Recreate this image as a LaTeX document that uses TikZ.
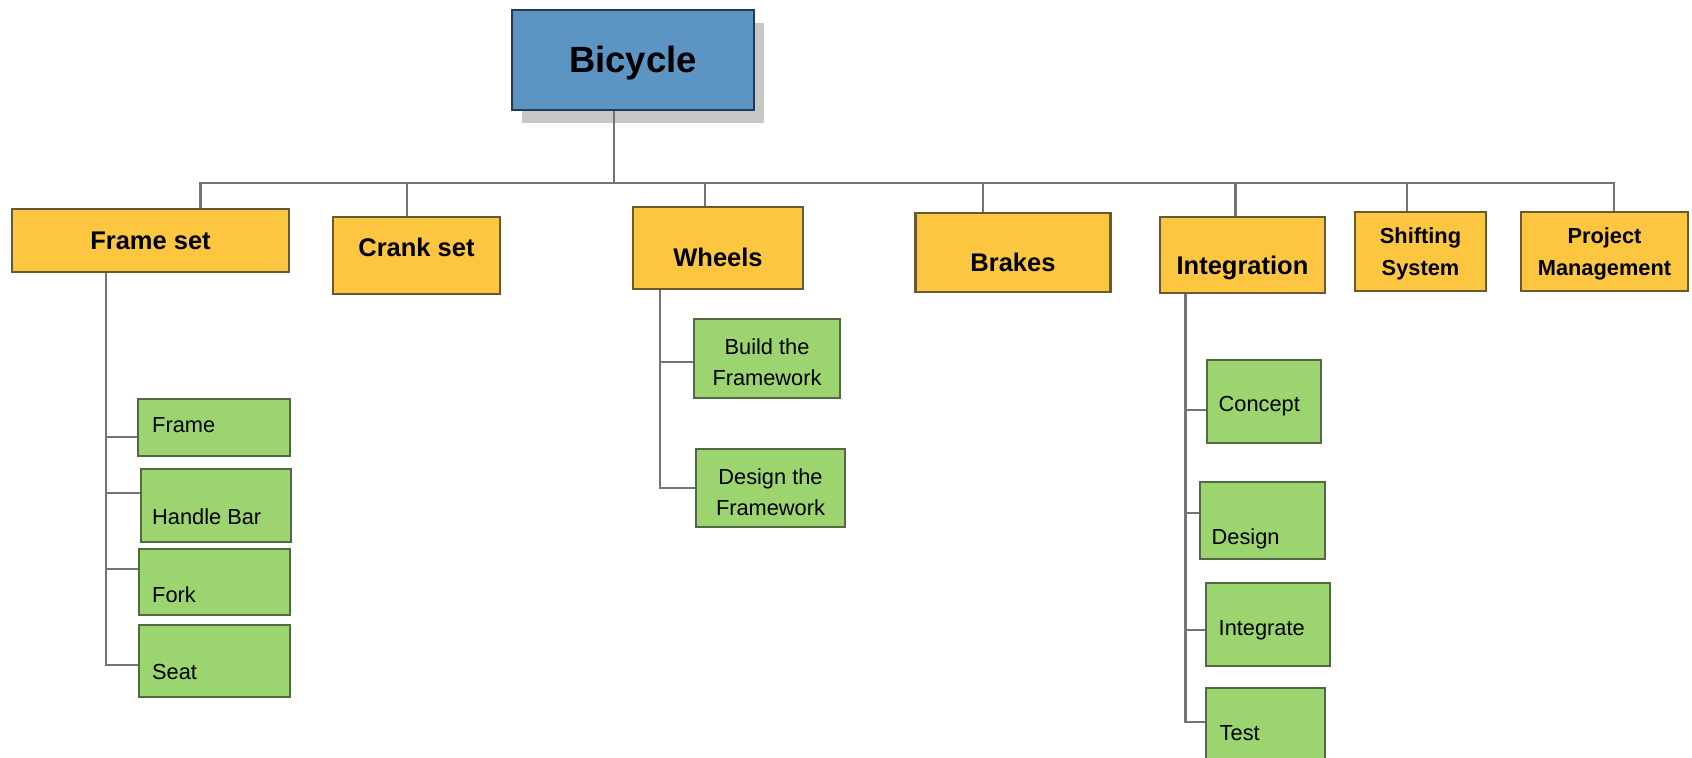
\documentclass[tikz,border=0pt]{standalone}
\usepackage{fontspec}
\setmainfont{Liberation Sans}
\usetikzlibrary{positioning,shadows}
\definecolor{rootblue}{RGB}{92,148,196}
\definecolor{rootline}{RGB}{38,56,84}
\definecolor{phaseyel}{RGB}{252,198,64}
\definecolor{phaseline}{RGB}{104,90,48}
\definecolor{taskgreen}{RGB}{156,212,111}
\definecolor{taskline}{RGB}{82,106,66}
\definecolor{wire}{RGB}{116,116,116}
\tikzstyle{conn} = [draw=wire, line width=1.2pt]
\tikzstyle{rootbox} = [rectangle, draw=rootline, fill=rootblue, line width=1.3pt, inner sep=0pt, drop shadow={shadow xshift=5pt, shadow yshift=-6.5pt, fill=black!22, opacity=1}]
\tikzstyle{phase} = [rectangle, draw=phaseline, fill=phaseyel, line width=1.2pt, inner sep=0pt]
\tikzstyle{task} = [rectangle, draw=taskline, fill=taskgreen, line width=1.2pt, inner sep=0pt]
\tikzstyle{roottxt} = [font=\bfseries\fontsize{18.25}{22}\selectfont, inner sep=0pt]
\tikzstyle{phasetxt} = [font=\bfseries\fontsize{12.75}{15}\selectfont, inner sep=0pt]
\tikzstyle{phasetxtsm} = [font=\bfseries\fontsize{10.9}{16}\selectfont, inner sep=0pt, align=center]
\tikzstyle{tasktxt} = [font=\fontsize{10.9}{15.5}\selectfont, inner sep=0pt, align=center]
\tikzstyle{tasktxtl} = [anchor=west, font=\fontsize{10.9}{15.5}\selectfont, inner sep=0pt]

\begin{document}
\begin{tikzpicture}[x=0.5pt,y=-0.5pt]
  \useasboundingbox (0,0) rectangle (1692,758);
  % root
  \node[rootbox,minimum width=121pt,minimum height=50pt,label={[roottxt,yshift=-1.5pt]center:Bicycle}](bicycle) at (633,60){};
  % level 1
  \node[phase,minimum width=138.5pt,minimum height=31.5pt,label={[phasetxt]center:Frame set}](frameset) at (150.5,240.5){};
  \node[phase,minimum width=83.5pt,minimum height=38.5pt,label={[phasetxt,yshift=4.25pt]center:Crank set}](crankset) at (416.5,255.5){};
  \node[phase,minimum width=85pt,minimum height=41pt,label={[phasetxt,yshift=-4.5pt]center:Wheels}](wheels) at (718,248){};
  \node[phase,minimum width=97.5pt,minimum height=39.5pt,label={[phasetxt,yshift=-5pt]center:Brakes}](brakes) at (1013,252.5){};
  \node[phase,minimum width=82.5pt,minimum height=38pt,label={[phasetxt,yshift=-6.5pt]center:Integration}](integration) at (1242.5,255){};
  \node[phase,minimum width=65.5pt,minimum height=39.5pt,label={[phasetxtsm,yshift=-1pt]center:Shifting\\System}](shifting) at (1420.5,251.5){};
  \node[phase,minimum width=83.5pt,minimum height=39.5pt,label={[phasetxtsm,yshift=-1pt]center:Project\\Management}](projmgmt) at (1604.5,251.5){};
  % frame set tasks
  \node[task,minimum width=76pt,minimum height=28.5pt,label={[tasktxtl,xshift=7.5pt,yshift=1.25pt]west:Frame}](frame) at (214,427.5){};
  \node[task,minimum width=75pt,minimum height=36.5pt,label={[tasktxtl,xshift=6pt,yshift=-5.5pt]west:Handle Bar}](handlebar) at (216,505.5){};
  \node[task,minimum width=75.5pt,minimum height=33pt,label={[tasktxtl,xshift=7pt,yshift=-6.5pt]west:Fork}](fork) at (214.5,582){};
  \node[task,minimum width=75.5pt,minimum height=36pt,label={[tasktxtl,xshift=7pt,yshift=-5.35pt]west:Seat}](seat) at (214.5,661){};
  % wheels tasks
  \node[task,minimum width=73pt,minimum height=39.5pt,label={[tasktxt,yshift=-1.75pt]center:Build the\\Framework}](buildfw) at (767,358.5){};
  \node[task,minimum width=74.5pt,minimum height=39pt,label={[tasktxt,yshift=-2pt]center:Design the\\Framework}](designfw) at (770.5,488){};
  % integration tasks
  \node[task,minimum width=57pt,minimum height=41.5pt,label={[tasktxtl,xshift=6.25pt,yshift=-2.5pt]west:Concept}](concept) at (1264,401.5){};
  \node[task,minimum width=62.5pt,minimum height=38.5pt,label={[tasktxtl,xshift=6.25pt,yshift=-9.25pt]west:Design}](design) at (1262.5,520.5){};
  \node[task,minimum width=62pt,minimum height=41.5pt,label={[tasktxtl,xshift=6.75pt,yshift=-2.75pt]west:Integrate}](integrate) at (1268,624.5){};
  \node[task,minimum width=59.5pt,minimum height=41.5pt,label={[tasktxtl,xshift=7.25pt,yshift=-1.75pt]west:Test}](test) at (1265.5,729.5){};

  % connectors
  \coordinate (bus) at (614,183);
  \draw[conn] ([xshift=-9.5pt]bicycle.south) -- (bus);
  \draw[conn] ([xshift=25pt]frameset.north) |- (bus) -| ([xshift=4.6pt]projmgmt.north);
  \foreach \n/\dx in {crankset/-4.75pt, wheels/-6.5pt, brakes/-15pt, integration/-3.5pt, shifting/-6.75pt}
    \draw[conn] ([xshift=\dx]\n.north) |- (bus);

  \draw[conn] ([xshift=-22.25pt]frameset.south) |- ([yshift=-2pt]seat.west);
  \foreach \n/\dy in {frame/-4.75pt, handlebar/6.25pt, fork/6.5pt}
    \draw[conn] ([yshift=\dy]\n.west) -| ([xshift=-22.25pt]frameset.south);

  \draw[conn] ([xshift=-29pt]wheels.south) |- (designfw.west);
  \draw[conn] ([yshift=-1.75pt]buildfw.west) -| ([xshift=-29pt]wheels.south);

  \draw[conn] ([xshift=-28.5pt]integration.south) |- ([yshift=3.75pt]test.west);
  \foreach \n/\dy in {concept/-4.25pt, design/3.75pt, integrate/-2.75pt}
    \draw[conn] ([yshift=\dy]\n.west) -| ([xshift=-28.5pt]integration.south);
\end{tikzpicture}
\end{document}
